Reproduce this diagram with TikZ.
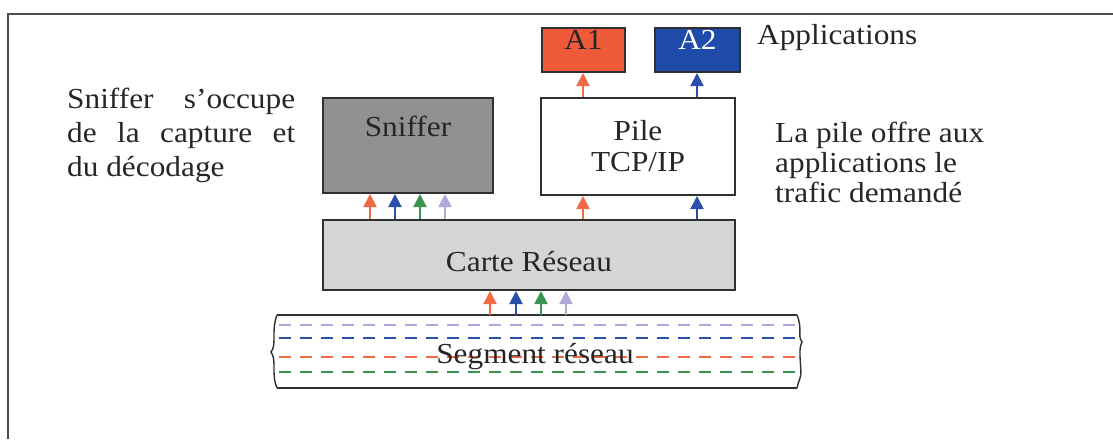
\documentclass[tikz,border=0pt]{standalone}
\usepackage{fontspec}
\setmainfont{Liberation Serif}[FakeStretch=1.08]
\usetikzlibrary{arrows.meta}
\definecolor{cOrange}{HTML}{EF6A45}
\definecolor{cBlue}{HTML}{2A4FAA}
\definecolor{cGreen}{HTML}{3A9450}
\definecolor{cLav}{HTML}{B3A6DA}
\definecolor{fillA}{HTML}{EE5A3A}
\definecolor{fillB}{HTML}{1F4CAA}
\definecolor{fillSniff}{HTML}{8F9290}
\definecolor{fillCarte}{HTML}{D4D6D6}
\definecolor{edge}{HTML}{303030}
\tikzset{
  box/.style={draw=edge, line width=2pt, rectangle, inner sep=0pt},
  lbl/.style={font=\fontsize{29}{34}\selectfont, text=black!85, inner sep=0pt},
  flow/.style={line width=2pt, -{Triangle[length=13pt,width=13pt]}},
  wire/.style={line width=2pt, dash pattern=on 12pt off 9pt},
}
\begin{document}
\begin{tikzpicture}[x=1pt,y=-1pt]
\useasboundingbox (0,0) rectangle (1113,439);
% page frame
\draw[line width=1.5pt, black!70] (8,439) -- (8,14) -- (1113,14);

% boxes
\node[box, fill=fillA, minimum width=83pt, minimum height=44pt] (a1) at (583.5,50) {};
\node[box, fill=fillB, minimum width=85pt, minimum height=44pt] (a2) at (697.5,50) {};
\node[lbl] (a1t) at (583.5,40) {A1};
\node[lbl, text=white] (a2t) at (697.5,40) {A2};
\node[lbl, anchor=west] (apps) at (757,38) {Applications};

\node[box, fill=white, minimum width=194pt, minimum height=97pt] (pile) at (638,146.5) {};
\node[lbl, align=center, font=\fontsize{29}{31}\selectfont] (pilet) at (638,146) {Pile\\TCP/IP};

\node[box, fill=fillSniff, minimum width=170pt, minimum height=95pt] (sniff) at (408,145.5) {};
\node[lbl] (snifft) at (408,126) {Sniffer};

\node[box, fill=fillCarte, minimum width=412pt, minimum height=70pt] (carte) at (529,255) {};
\node[lbl] (cartet) at (529,262) {Carte Réseau};

% side notes
\node[lbl, anchor=north west, align=left] (note1) at (67,88)
  {\makebox[228pt][s]{Sniffer s’occupe}\\
   \makebox[228pt][s]{de la capture et}\\
   du décodage};
\node[lbl, anchor=north west, align=left, font=\fontsize{29}{30}\selectfont] (note2) at (775,122)
  {La pile offre aux\\applications le\\trafic demandé};

% network segment
\coordinate (sTL) at (277,315);
\coordinate (sTR) at (797,315);
\coordinate (sBL) at (277,388);
\coordinate (sBR) at (797,388);
\draw[line width=2pt, edge] (sTL) -- (sTR);
\draw[line width=2pt, edge] (sBL) -- (sBR);
\draw[line width=1.4pt, edge] (sTL) .. controls (271,330) and (277,345) .. (271,352)
  .. controls (277,360) and (271,375) .. (sBL);
\draw[line width=1.4pt, edge] (sTR) .. controls (803,330) and (797,335) .. (802,342)
  .. controls (797,350) and (803,372) .. (800,378) .. controls (798,384) .. (sBR);
\draw[wire, cLav, line width=1.5pt] (279,325) -- (796,325);
\draw[wire, cBlue] (279,338) -- (796,338);
\draw[wire, cOrange] (279,357) -- (796,357);
\draw[wire, cGreen] (279,372) -- (796,372);
\node[lbl] (segt) at (535,357) {Segment réseau};

% arrow positions
\coordinate (u1) at (370,0);
\coordinate (u2) at (395,0);
\coordinate (u3) at (420,0);
\coordinate (u4) at (445,0);
\coordinate (v1) at (583,0);
\coordinate (v2) at (697,0);
\coordinate (w1) at (490,0);
\coordinate (w2) at (516,0);
\coordinate (w3) at (541,0);
\coordinate (w4) at (566,0);

% carte -> sniffer
\draw[flow, cOrange] (carte.north -| u1) -- (sniff.south -| u1);
\draw[flow, cBlue]   (carte.north -| u2) -- (sniff.south -| u2);
\draw[flow, cGreen]  (carte.north -| u3) -- (sniff.south -| u3);
\draw[flow, cLav]    (carte.north -| u4) -- (sniff.south -| u4);
% carte -> pile
\draw[flow, cOrange] (carte.north -| v1) -- (pile.south -| v1);
\draw[flow, cBlue]   (carte.north -| v2) -- (pile.south -| v2);
% pile -> applications
\draw[flow, cOrange] (pile.north -| v1) -- (a1.south -| v1);
\draw[flow, cBlue]   (pile.north -| v2) -- (a2.south -| v2);
% segment -> carte
\draw[flow, cOrange] (sTL -| w1) -- (carte.south -| w1);
\draw[flow, cBlue]   (sTL -| w2) -- (carte.south -| w2);
\draw[flow, cGreen]  (sTL -| w3) -- (carte.south -| w3);
\draw[flow, cLav]    (sTL -| w4) -- (carte.south -| w4);
\end{tikzpicture}
\end{document}
